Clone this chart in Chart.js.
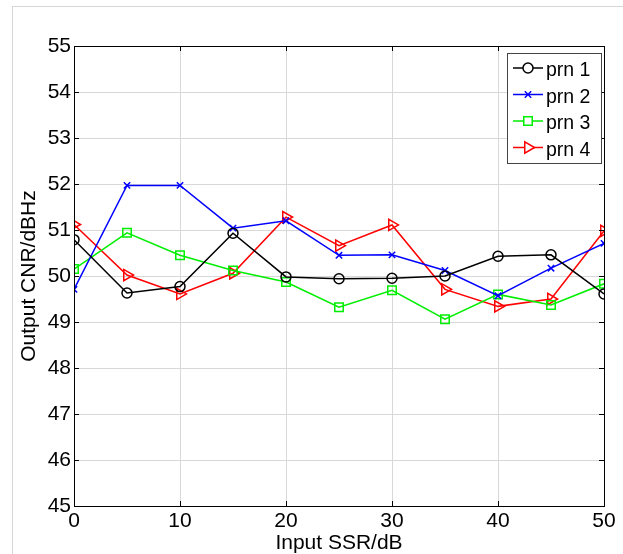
<!DOCTYPE html>
<html>
<head>
<meta charset="utf-8">
<script src="https://cdn.jsdelivr.net/npm/chart.js"></script>
<style>
  html, body { margin: 0; padding: 0; background: #fff; }
  #wrap { position: relative; width: 623px; height: 554px; overflow: hidden; }
  #frame { position: absolute; left: 12px; top: 6px; width: 640px; height: 600px; border: 1px solid #d6d6d6; }
  #myChart { position: absolute; left: 0; top: 0; }
</style>
</head>
<body>
<div id="wrap">
  <div id="frame"></div>
  <canvas id="myChart" width="623" height="554"></canvas>
</div>
<script>
'use strict';

//***************** Data *****************
let ssr = [0, 5, 10, 15, 20, 25, 30, 35, 40, 45, 50];
let prn1 = [50.79, 49.63, 49.77, 50.93, 49.98, 49.94, 49.95, 50.00, 50.43, 50.46, 49.61];
let prn2 = [49.71, 51.97, 51.97, 51.04, 51.20, 50.45, 50.46, 50.12, 49.57, 50.17, 50.71];
let prn3 = [50.15, 50.94, 50.45, 50.12, 49.87, 49.32, 49.69, 49.06, 49.60, 49.37, 49.83];
let prn4 = [51.12, 50.02, 49.61, 50.06, 51.28, 50.66, 51.11, 49.71, 49.34, 49.50, 50.98];
let seriesNames = ['prn 1', 'prn 2', 'prn 3', 'prn 4'];

let fontName = '"Liberation Sans", Arial, sans-serif';

function toPoints(values) {
  let pts = [];
  for (let i = 0; i < ssr.length; i++) {
    pts.push({ x: ssr[i], y: values[i] });
  }
  return pts;
}

//***************** Plugins *****************
// matlab style box with inward ticks on all four sides
let boxPlugin = {
  id: 'boxPlugin',
  afterDatasetsDraw(chart) {
    let c = chart.ctx;
    let a = chart.chartArea;
    let xs = chart.scales.x;
    let ys = chart.scales.y;
    c.save();
    c.strokeStyle = '#000';
    c.lineWidth = 1;
    c.beginPath();
    xs.ticks.forEach(function (t) {
      let px = Math.round(xs.getPixelForValue(t.value)) + 0.5;
      c.moveTo(px, a.bottom); c.lineTo(px, a.bottom - 5);
      c.moveTo(px, a.top); c.lineTo(px, a.top + 5);
    });
    ys.ticks.forEach(function (t) {
      let py = Math.round(ys.getPixelForValue(t.value)) + 0.5;
      c.moveTo(a.left, py); c.lineTo(a.left + 5, py);
      c.moveTo(a.right, py); c.lineTo(a.right - 5, py);
    });
    c.stroke();
    c.strokeRect(Math.round(a.left) + 0.5, Math.round(a.top) + 0.5, Math.round(a.right - a.left), Math.round(a.bottom - a.top));
    c.restore();
  }
};

// legend inside the axes, top right
let legendPlugin = {
  id: 'legendPlugin',
  afterDraw(chart) {
    let c = chart.ctx;
    let bx = 507, by = 53, bw = 94, bh = 110;
    c.save();
    c.fillStyle = '#fff';
    c.fillRect(bx, by, bw, bh);
    c.strokeStyle = '#444';
    c.lineWidth = 1;
    c.strokeRect(bx + 0.5, by + 0.5, bw, bh);
    chart.data.datasets.forEach(function (ds, i) {
      let y = by + 15 + i * 26.5;
      c.strokeStyle = ds.borderColor;
      c.lineWidth = ds.borderWidth;
      c.beginPath();
      c.moveTo(bx + 6, y);
      c.lineTo(bx + 36, y);
      c.stroke();
      // hollow marker like the plot
      c.fillStyle = '#fff';
      Chart.helpers.drawPoint(c, {
        pointStyle: ds.pointStyle,
        rotation: ds.pointRotation || 0,
        radius: ds.pointRadius,
        borderWidth: ds.pointBorderWidth
      }, bx + 21, y);
      c.fillStyle = '#000';
      c.font = '19.5px ' + fontName;
      c.textBaseline = 'middle';
      c.textAlign = 'left';
      c.fillText(ds.label, bx + 39, y + 3);
    });
    c.restore();
  }
};

//***************** Chart *****************
let ctx = document.getElementById('myChart');

function makeSet(name, values, color, style, radius, rot) {
  return {
    label: name,
    data: toPoints(values),
    borderColor: color,
    backgroundColor: 'rgba(0,0,0,0)',
    borderWidth: 1.5,
    pointStyle: style,
    pointRadius: radius,
    pointRotation: rot,
    pointBorderWidth: 1.5,
    pointBorderColor: color,
    pointBackgroundColor: 'rgba(0,0,0,0)',
    tension: 0,
    fill: false
  };
}

let myChartObj = {
  type: 'line',
  data: {
    datasets: [
      makeSet(seriesNames[0], prn1, '#000000', 'circle', 5, 0),
      makeSet(seriesNames[1], prn2, '#0000ff', 'crossRot', 4.5, 0),
      makeSet(seriesNames[2], prn3, '#00ee00', 'rect', 6, 0),
      makeSet(seriesNames[3], prn4, '#ff0000', 'triangle', 6.5, 90)
    ]
  },
  options: {
    responsive: false,
    animation: false,
    layout: { padding: { top: 46, right: 19, left: 0, bottom: 0 } },
    plugins: {
      legend: { display: false },
      tooltip: { enabled: false }
    },
    scales: {
      x: {
        type: 'linear',
        min: 0,
        max: 50,
        afterFit(scale) { scale.height = 48; },
        ticks: { stepSize: 10, color: '#000', padding: 3, font: { family: fontName, size: 21 } },
        grid: { color: '#d8d8d8', drawTicks: false },
        border: { display: false },
        title: { display: true, text: 'Input SSR/dB', color: '#000', padding: { top: 0, bottom: -2 }, font: { family: fontName, size: 21 } }
      },
      y: {
        min: 45,
        max: 55,
        afterFit(scale) { scale.width = 74; },
        ticks: { stepSize: 1, color: '#000', padding: 3, font: { family: fontName, size: 21 } },
        grid: { color: '#d8d8d8', drawTicks: false },
        border: { display: false },
        title: { display: true, text: 'Output CNR/dBHz', color: '#000', padding: { top: 17, bottom: 0 }, font: { family: fontName, size: 21 } }
      }
    }
  },
  plugins: [boxPlugin, legendPlugin]
};

new Chart(ctx, myChartObj);
</script>
</body>
</html>
